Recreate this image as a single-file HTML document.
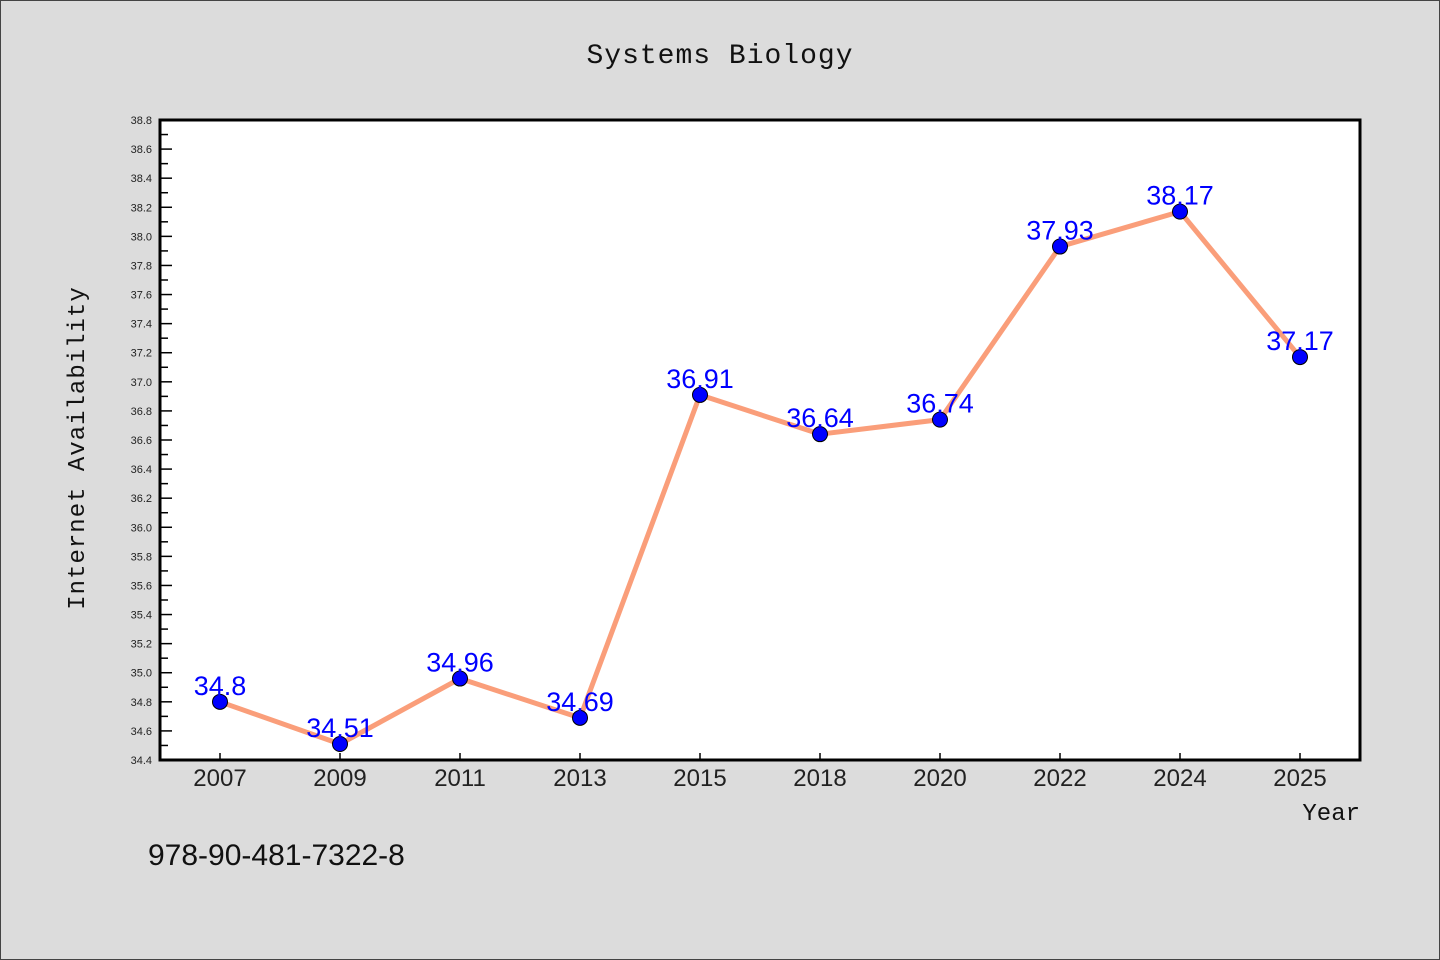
<!DOCTYPE html>
<html><head><meta charset="utf-8"><style>
html,body{margin:0;padding:0;background:#dcdcdc;}
svg{display:block;}
</style></head><body>
<svg id="chart" width="1440" height="960" xmlns="http://www.w3.org/2000/svg">
<rect x="0.5" y="0.5" width="1439" height="959" fill="#dcdcdc" stroke="#444" stroke-width="1"/>
<text x="720" y="63" text-anchor="middle" font-family="'Liberation Mono', monospace" font-size="28" letter-spacing="1" fill="#111">Systems Biology</text>
<rect x="160" y="120" width="1200" height="640" fill="#fff"/>
<g id="yticks"></g>
<g id="xticks"></g>
<g id="series"></g>
<rect x="160" y="120" width="1200" height="640" fill="none" stroke="#000" stroke-width="3"/>
<text transform="translate(84,448) rotate(-90)" text-anchor="middle" font-family="'Liberation Mono', monospace" font-size="24" letter-spacing="1" fill="#111">Internet Availability</text>
<text x="1360" y="820" text-anchor="end" font-family="'Liberation Mono', monospace" font-size="24" fill="#111">Year</text>
<text x="148" y="865" font-family="'Liberation Sans', sans-serif" font-size="30" fill="#111">978-90-481-7322-8</text>
</svg>
<script>
const categories = ["2007","2009","2011","2013","2015","2018","2020","2022","2024","2025"];
const values = [34.8,34.51,34.96,34.69,36.91,36.64,36.74,37.93,38.17,37.17];
const valueLabels = ["34.8","34.51","34.96","34.69","36.91","36.64","36.74","37.93","38.17","37.17"];
const yMin = 34.4, yMax = 38.8, yStep = 0.2;
const NS = "http://www.w3.org/2000/svg";
const L = 160, R = 1360, T = 120, B = 760;
function xs(i){ return L + (R - L) / categories.length * (i + 0.5); }
function ys(v){ return B - (v - yMin) / (yMax - yMin) * (B - T); }
function mk(tag, attrs, parent){ const e = document.createElementNS(NS, tag); for (const k in attrs) e.setAttribute(k, attrs[k]); parent.appendChild(e); return e; }
const yg = document.getElementById('yticks');
const nT = Math.round((yMax - yMin) / yStep);
for (let k = 0; k <= nT; k++) {
  const v = yMin + k * yStep, y = ys(v);
  const t = mk('line', {x1: L, x2: L + 12, y1: y, y2: y, stroke: '#000', 'stroke-width': 1.5}, yg);
  
  
  const lb = mk('text', {x: 152, y: y + 4, 'text-anchor': 'end', 'font-family': "'Liberation Sans', sans-serif", 'font-size': 11, fill: '#222'}, yg);
  lb.textContent = v.toFixed(1);
  
  
  if (k < nT) {
    const ym = ys(v + yStep / 2);
    const m = mk('line', {x1: L, x2: L + 8, y1: ym, y2: ym, stroke: '#000', 'stroke-width': 1.5}, yg);
    
    
  }
}
const xg = document.getElementById('xticks');
categories.forEach((c, i) => {
  const x = xs(i);
  const t = mk('line', {x1: x, x2: x, y1: B, y2: B - 7, stroke: '#000', 'stroke-width': 1.5}, xg);
  
  
  const lb = mk('text', {x: x, y: 786, 'text-anchor': 'middle', 'font-family': "'Liberation Sans', sans-serif", 'font-size': 24, fill: '#222'}, xg);
  lb.textContent = c;
  
  
});
const sg = document.getElementById('series');
const pts = values.map((v, i) => xs(i) + ',' + ys(v)).join(' ');
const pl = mk('polyline', {points: pts, fill: 'none', stroke: '#fa9e7a', 'stroke-width': 5, 'stroke-linejoin': 'round'}, sg);


values.forEach((v, i) => {
  const c = mk('circle', {cx: xs(i), cy: ys(v), r: 7.5, fill: '#0000ff', stroke: '#000', 'stroke-width': 1}, sg);
  
  
});
values.forEach((v, i) => {
  const t = mk('text', {x: xs(i), y: ys(v) - 7, 'text-anchor': 'middle', 'font-family': "'Liberation Sans', sans-serif", 'font-size': 27, fill: '#0000ff'}, sg);
  t.textContent = valueLabels[i];
  
  
});
</script>
</body></html>
